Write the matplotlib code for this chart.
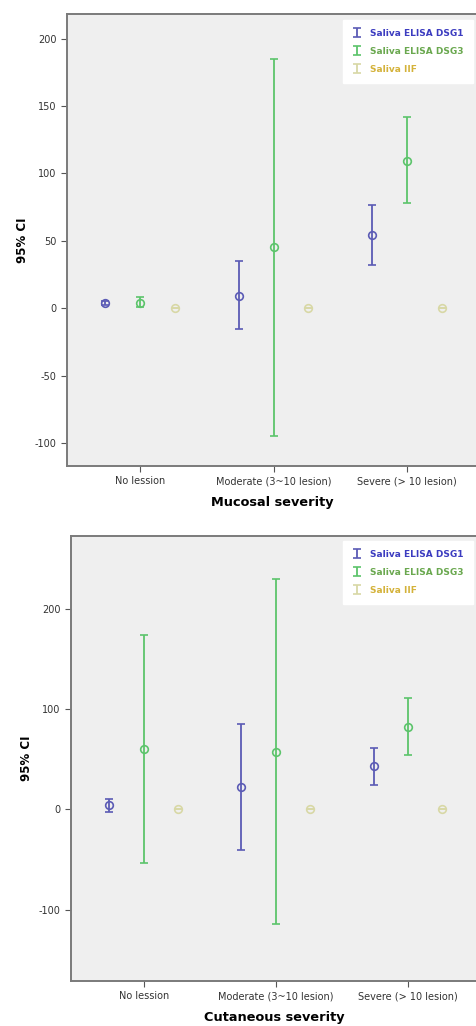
import matplotlib.pyplot as plt
import numpy as np

# Categories and series
categories = ["No lession", "Moderate (3~10 lesion)", "Severe (> 10 lesion)"]
series = ["Saliva ELISA DSG1", "Saliva ELISA DSG3", "Saliva IIF"]
colors = ["#5b5bb5", "#5cc46b", "#d8d8a6"]
text_colors = ["#3c3cc0", "#6aa84f", "#d4b23a"]

# Mucosal severity: mean, lower CI, upper CI for each series
muc_mean = [[3.5, 9, 54], [4, 45.5, 109], [0, 0, 0]]
muc_low = [[2, -15.5, 32], [1, -95, 78], [0, 0, 0]]
muc_high = [[5, 35, 76.5], [8, 185, 141.5], [0, 0, 0]]

# Cutaneous severity
cut_mean = [[4.5, 22, 43], [60, 57.5, 82.5], [0, 0, 0]]
cut_low = [[-3, -40.5, 24], [-53, -114, 54], [0, 0, 0]]
cut_high = [[10, 85, 61.5], [174, 230, 111.5], [0, 0, 0]]

plt.rcParams["font.family"] = "DejaVu Sans"
plt.rcParams["axes.unicode_minus"] = False

fig = plt.figure(figsize=(4.77, 10.26), dpi=100)
ax1 = fig.add_axes([0.140, 0.546, 0.862, 0.440])
ax2 = fig.add_axes([0.149, 0.044, 0.853, 0.434])

offsets = [-0.26, 0.0, 0.26]


def draw(ax, means, lows, highs, xlabel, ylim, yticks):
    ax.set_facecolor("#efefef")
    x = np.arange(len(categories))
    for i in range(len(series)):
        m = np.array(means[i])
        lo = m - np.array(lows[i])
        hi = np.array(highs[i]) - m
        # CI bars (these make the legend entries)
        ax.errorbar(x + offsets[i], m, yerr=[lo, hi], fmt="none", ecolor=colors[i],
                    elinewidth=1.3, capsize=3, capthick=1.2, label=series[i])
        # mean markers
        ax.plot(x + offsets[i], m, "o", mfc="none", mec=colors[i], ms=5.5, mew=1.2)
    ax.set_xlim(-0.55, 2.53)
    ax.set_ylim(*ylim)
    ax.set_yticks(yticks)
    ax.set_xticks(x)
    ax.set_xticklabels(categories, fontsize=7, color="#333333")
    ax.tick_params(axis="y", labelsize=7, labelcolor="#333333", length=4, color="#555555")
    ax.tick_params(axis="x", length=4, color="#555555")
    for s in ax.spines.values():
        s.set_color("#7a7a7a")
        s.set_linewidth(1.4)
    ax.set_xlabel(xlabel, fontsize=9.3, fontweight="bold", labelpad=7)
    ax.set_ylabel("95% CI", fontsize=8.5, fontweight="bold", labelpad=4)
    leg = ax.legend(loc="upper right", fontsize=6.5, frameon=True, fancybox=False,
                    framealpha=1, edgecolor="white", handlelength=1.2,
                    borderpad=1.0, labelspacing=1.0, borderaxespad=0.6)
    for t, c in zip(leg.get_texts(), text_colors):
        t.set_color(c)
        t.set_fontweight("bold")


draw(ax1, muc_mean, muc_low, muc_high, "Mucosal severity", (-117, 218),
     [-100, -50, 0, 50, 100, 150, 200])
draw(ax2, cut_mean, cut_low, cut_high, "Cutaneous severity", (-171, 273),
     [-100, 0, 100, 200])

fig.savefig("out.png", dpi=100)
